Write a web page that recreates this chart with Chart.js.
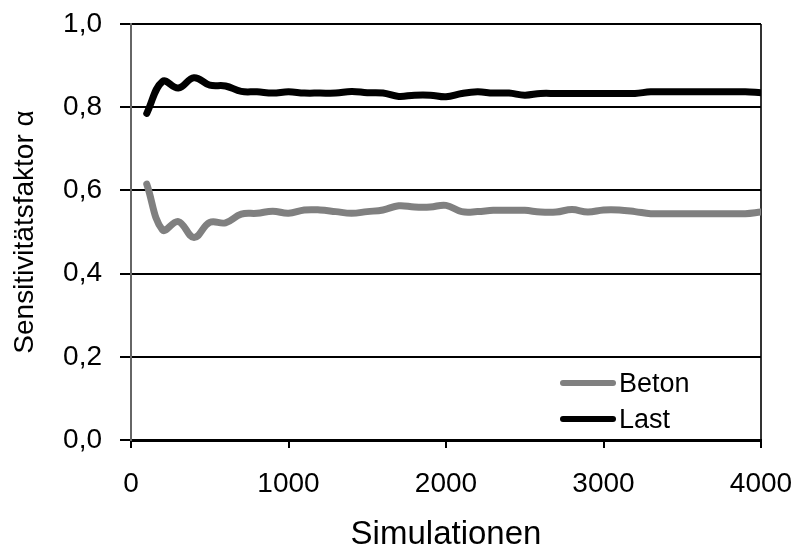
<!DOCTYPE html>
<html>
<head>
<meta charset="utf-8">
<script src="https://cdn.jsdelivr.net/npm/chart.js@4/dist/chart.umd.min.js"></script>
<style>
html,body{margin:0;padding:0;background:#fff;}
#wrap{width:796px;height:545px;position:relative;}
</style>
</head>
<body>
<div id="wrap"><canvas id="c" width="796" height="545"></canvas></div>
<script>
const simulations = [100,200,300,400,500,600,700,800,900,1000,1100,1200,1300,1400,1500,1600,1700,1800,1900,2000,2100,2200,2300,2400,2500,2600,2700,2800,2900,3000,3100,3200,3300,3400,3500,3600,3700,3800,3900,4000];
const beton = [0.615,0.505,0.525,0.487,0.523,0.522,0.543,0.545,0.550,0.545,0.553,0.553,0.549,0.545,0.549,0.553,0.563,0.560,0.560,0.564,0.549,0.549,0.552,0.552,0.552,0.548,0.548,0.554,0.548,0.553,0.553,0.549,0.544,0.544,0.544,0.544,0.544,0.544,0.544,0.548];
const last = [0.785,0.862,0.846,0.871,0.853,0.851,0.838,0.837,0.834,0.837,0.834,0.834,0.834,0.838,0.835,0.834,0.826,0.829,0.829,0.825,0.833,0.837,0.834,0.834,0.829,0.833,0.833,0.833,0.833,0.833,0.833,0.833,0.837,0.837,0.837,0.837,0.837,0.837,0.837,0.835];
const xTicks = [0,1000,2000,3000,4000];
const yTickLabels = ['0,0','0,2','0,4','0,6','0,8','1,0'];
const seriesNames = ['Beton','Last'];

const FONT = 'Liberation Sans, Arial, sans-serif';

const legendPlugin = {
  id: 'insideLegend',
  afterDatasetsDraw(chart) {
    const ctx = chart.ctx;
    const ca = chart.chartArea;
    ctx.save();
    chart.data.datasets.forEach((ds, i) => {
      const y = ca.bottom - 57 + i * 36;
      const x0 = ca.right - 198;
      const x1 = ca.right - 148;
      ctx.strokeStyle = ds.borderColor;
      ctx.lineWidth = 6;
      ctx.lineCap = 'round';
      ctx.beginPath();
      ctx.moveTo(x0, y);
      ctx.lineTo(x1, y);
      ctx.stroke();
      ctx.fillStyle = '#000';
      ctx.font = '27px ' + FONT;
      ctx.textBaseline = 'middle';
      ctx.textAlign = 'left';
      ctx.fillText(ds.label, x1 + 6, y + 2);
    });
    ctx.restore();
  }
};

new Chart(document.getElementById('c'), {
  type: 'line',
  data: {
    datasets: [
      {
        label: seriesNames[0],
        data: simulations.map((s, i) => ({x: s, y: beton[i]})),
        borderColor: '#808080',
        borderWidth: 7,
        pointRadius: 0,
        tension: 0.4,
        borderCapStyle: 'round',
        borderJoinStyle: 'round',
        fill: false
      },
      {
        label: seriesNames[1],
        data: simulations.map((s, i) => ({x: s, y: last[i]})),
        borderColor: '#000000',
        borderWidth: 7,
        pointRadius: 0,
        tension: 0.4,
        borderCapStyle: 'round',
        borderJoinStyle: 'round',
        fill: false
      }
    ]
  },
  options: {
    responsive: false,
    animation: false,
    devicePixelRatio: 1,
    layout: {padding: {top: 24, right: 35, left: 0, bottom: 0}},
    plugins: {legend: {display: false}, tooltip: {enabled: false}},
    scales: {
      x: {
        type: 'linear',
        min: 0, max: 4000,
        afterBuildTicks: (s) => { s.ticks = xTicks.map(v => ({value: v})); },
        afterFit: (s) => { s.height = 105; s.paddingLeft = 0; s.paddingRight = 0; },
        ticks: {
          font: {family: FONT, size: 28},
          color: '#000',
          padding: 19,
          maxRotation: 0,
          autoSkip: false,
          callback: (v) => String(v)
        },
        grid: {
          drawOnChartArea: true,
          color: (c) => (c.tick && c.tick.value === 4000) ? '#333' : 'rgba(0,0,0,0)',
          lineWidth: 2,
          tickColor: '#000',
          tickLength: 8
        },
        border: {display: true, color: '#000', width: 3},
        title: {
          display: true,
          text: 'Simulationen',
          font: {family: FONT, size: 33},
          color: '#000',
          padding: {top: 0, bottom: -10}
        }
      },
      y: {
        min: 0, max: 1,
        afterBuildTicks: (s) => { s.ticks = yTickLabels.map((t, i) => ({value: i * 0.2})); },
        afterFit: (s) => { s.width = 131; s.paddingTop = 0; s.paddingBottom = 0; },
        ticks: {
          font: {family: FONT, size: 28},
          color: '#000',
          padding: 18,
          callback: (v, i) => yTickLabels[i]
        },
        grid: {
          color: '#000',
          lineWidth: 2,
          tickColor: '#000',
          tickLength: 11
        },
        border: {display: true, color: '#666', width: 2},
        title: {
          display: true,
          text: 'Sensitivitätsfaktor α',
          font: {family: FONT, size: 28},
          color: '#000',
          padding: {top: 8, bottom: 0}
        }
      }
    }
  },
  plugins: [legendPlugin]
});
</script>
</body>
</html>
